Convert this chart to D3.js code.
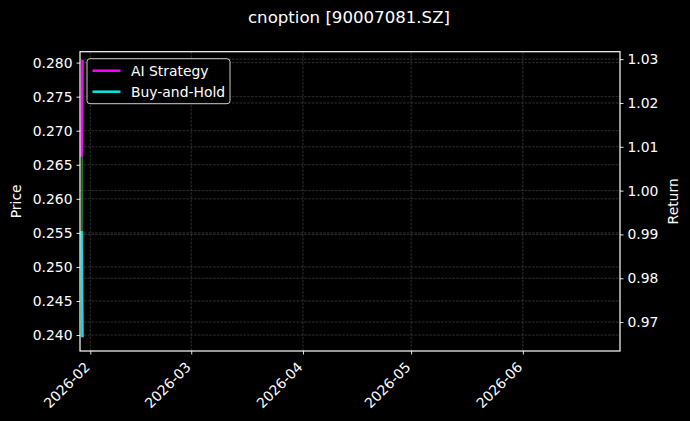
<!DOCTYPE html>
<html>
<head>
<meta charset="utf-8">
<script src="https://cdn.jsdelivr.net/npm/d3@7"></script>
<style>
  html, body { margin: 0; padding: 0; background: #000; }
  svg { display: block; }
  text { font-family: "DejaVu Sans", sans-serif; fill: #fff; }
</style>
</head>
<body>
<div id="chart"></div>
<script>
// data
const dates = ["2026-01-29T14:00", "2026-01-29T20:00"];
const price = [0.2398, 0.2795];
const aiStrategy = [1.0080, 1.0296];
const buyHold = [0.9905, 0.9668];

const xDomain = ["2026-01-29T03:26", "2026-06-27T22:40"];
const priceDomain = [0.23766, 0.2816];
const returnDomain = [0.9634, 1.0317];
const priceTicks = [0.240, 0.245, 0.250, 0.255, 0.260, 0.265, 0.270, 0.275, 0.280];
const returnTicks = [0.97, 0.98, 0.99, 1.00, 1.01, 1.02, 1.03];
const seriesNames = ["AI Strategy", "Buy-and-Hold"];
const seriesColors = ["#ff00ff", "#00e8e8"];

const width = 690, height = 421;
const margin = { top: 51.7, right: 70, bottom: 70, left: 80 };
const w = width - margin.left - margin.right;
const h = height - margin.top - margin.bottom;

var parse = d3.utcParse("%Y-%m-%dT%H:%M");

var xScale = d3.scaleUtc()
    .domain(xDomain.map(parse))
    .range([0, w]);

var yPrice = d3.scaleLinear()
    .domain(priceDomain)
    .range([h, 0]);

var yReturn = d3.scaleLinear()
    .domain(returnDomain)
    .range([h, 0]);

var svg = d3.select("#chart").append("svg")
    .attr("width", width)
    .attr("height", height);

svg.append("rect")
    .attr("width", width)
    .attr("height", height)
    .attr("fill", "#000");

svg.append("text")
    .attr("x", 349)
    .attr("y", 23)
    .attr("text-anchor", "middle")
    .style("font-size", "16.6px")
    .text("cnoption [90007081.SZ]");

var g = svg.append("g")
    .attr("transform", "translate(" + margin.left + "," + margin.top + ")");

var monthTicks = xScale.ticks(d3.utcMonth.every(1));

// grid, dashed grey
var grid = g.append("g")
    .attr("stroke", "#4d4d4d")
    .attr("stroke-width", 0.6)
    .attr("stroke-dasharray", "2.6,1.2")
    .attr("fill", "none");

grid.selectAll(".gx")
    .data(monthTicks)
    .join("line")
    .attr("x1", d => xScale(d)).attr("x2", d => xScale(d))
    .attr("y1", 0).attr("y2", h);

grid.selectAll(".gp")
    .data(priceTicks)
    .join("line")
    .attr("x1", 0).attr("x2", w)
    .attr("y1", d => yPrice(d)).attr("y2", d => yPrice(d));

grid.selectAll(".gr")
    .data(returnTicks)
    .join("line")
    .attr("x1", 0).attr("x2", w)
    .attr("y1", d => yReturn(d)).attr("y2", d => yReturn(d));

var priceData = dates.map((d, i) => ({ date: parse(d), v: price[i] }));

// price on the left axis, under the return lines
g.append("path")
    .datum(priceData)
    .attr("fill", "#1f7a1f")
    .attr("fill-opacity", 0.35)
    .attr("d", d3.area()
        .x(d => xScale(d.date))
        .y0(yPrice(d3.min(price)))
        .y1(d => yPrice(d.v)));

g.append("path")
    .datum(priceData)
    .attr("fill", "none")
    .attr("stroke", "#2bb02b")
    .attr("stroke-opacity", 0.8)
    .attr("stroke-width", 1.5)
    .attr("d", d3.line()
        .x(d => xScale(d.date))
        .y(d => yPrice(d.v)));

var returnLine = d3.line()
    .x(d => xScale(d.date))
    .y(d => yReturn(d.v));

[aiStrategy, buyHold].forEach(function (s, k) {
    g.append("path")
        .datum(dates.map((d, i) => ({ date: parse(d), v: s[i] })))
        .attr("fill", "none")
        .attr("stroke", seriesColors[k])
        .attr("stroke-width", 2.5)
        .attr("stroke-linecap", "square")
        .attr("d", returnLine);
});

// axes
function styleAxis(sel) {
    sel.select(".domain").remove();
    sel.selectAll(".tick line").attr("stroke", "#fff").attr("stroke-width", 0.9);
    sel.selectAll(".tick text").style("font-size", "13.9px").attr("fill", "#fff");
}

g.append("g")
    .call(d3.axisLeft(yPrice).tickValues(priceTicks).tickFormat(d3.format(".3f")).tickSize(3.5).tickPadding(4))
    .call(styleAxis);

g.append("g")
    .attr("transform", "translate(" + w + ",0)")
    .call(d3.axisRight(yReturn).tickValues(returnTicks).tickFormat(d3.format(".2f")).tickSize(3.5).tickPadding(4))
    .call(styleAxis);

var xAxis = g.append("g")
    .attr("transform", "translate(0," + h + ")")
    .call(d3.axisBottom(xScale).tickValues(monthTicks).tickFormat(d3.utcFormat("%Y-%m")).tickSize(3.5))
    .call(styleAxis);

xAxis.selectAll(".tick text")
    .attr("text-anchor", "end")
    .attr("dy", null)
    .attr("y", null)
    .attr("transform", "translate(0,17) rotate(-45)");

g.append("rect")
    .attr("width", w)
    .attr("height", h)
    .attr("fill", "none")
    .attr("stroke", "#fff")
    .attr("stroke-width", 1.2);

svg.append("text")
    .attr("transform", "translate(21," + (margin.top + h / 2) + ") rotate(-90)")
    .attr("text-anchor", "middle")
    .style("font-size", "13.9px")
    .text("Price");

svg.append("text")
    .attr("transform", "translate(678," + (margin.top + h / 2) + ") rotate(-90)")
    .attr("text-anchor", "middle")
    .style("font-size", "13.9px")
    .text("Return");

// legend
var legend = g.append("g").attr("transform", "translate(7,7)");

legend.append("rect")
    .attr("width", 143)
    .attr("height", 45)
    .attr("rx", 3)
    .attr("fill", "#000")
    .attr("fill-opacity", 0.8)
    .attr("stroke", "#ccc")
    .attr("stroke-width", 1);

var items = legend.selectAll(".item")
    .data(seriesNames)
    .join("g")
    .attr("transform", (d, i) => "translate(0," + (12 + i * 21) + ")");

items.append("line")
    .attr("x1", 5.5).attr("x2", 33.5)
    .attr("stroke", (d, i) => seriesColors[i])
    .attr("stroke-width", 2.5);

items.append("text")
    .attr("x", 44)
    .attr("dy", "0.35em")
    .style("font-size", "13.9px")
    .text(d => d);
</script>
</body>
</html>
